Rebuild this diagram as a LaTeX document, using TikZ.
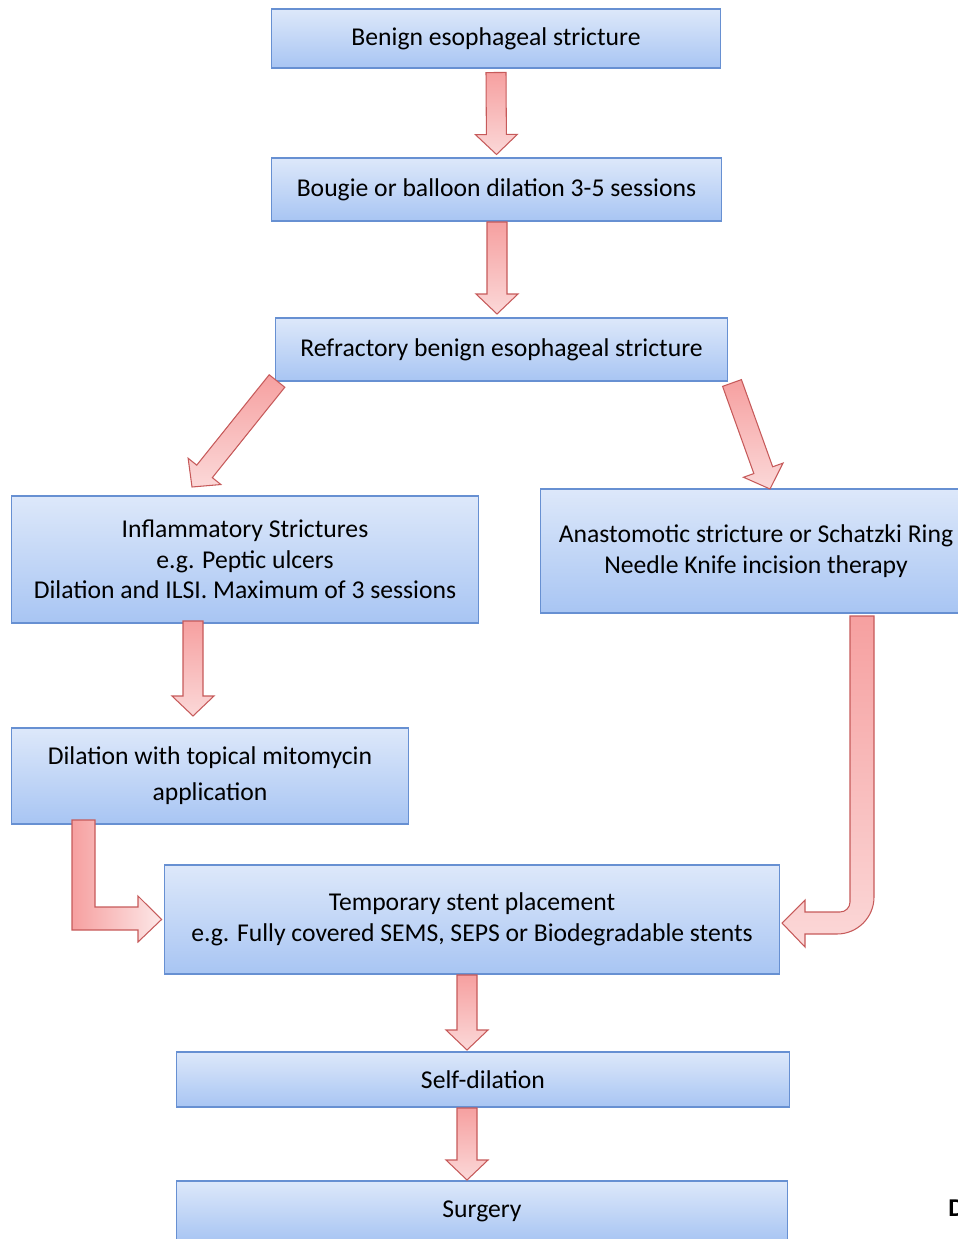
\documentclass[tikz,border=0pt]{standalone}
\usepackage{fontspec}
\setmainfont{Carlito}
\usetikzlibrary{calc}
\definecolor{boxtop}{HTML}{DDE8FA}
\definecolor{boxbot}{HTML}{A8C5F3}
\definecolor{boxline}{HTML}{6790D2}
\definecolor{arrtop}{HTML}{F6A0A0}
\definecolor{arrbot}{HTML}{FBD8D8}
\definecolor{arrline}{HTML}{C65A5A}
\tikzstyle{stage} = [draw=boxline, line width=0.6pt, top color=boxtop, bottom color=boxbot, align=center, inner sep=0pt, font=\fontsize{14.6}{17.4}\selectfont]
\tikzstyle{blockarr} = [draw=arrline, line width=0.6pt, top color=arrtop, bottom color=arrbot]
% straight block arrow from #1 to tip #2
\newcommand{\blockarrow}[2]{%
  \coordinate (hb) at ($(#2)!0.4cm!(#1)$);
  \path[blockarr] ($(#1)!0.2cm!90:(#2)$) -- ($(hb)!0.2cm!90:(#2)$) -- ($(hb)!0.42cm!90:(#2)$) -- (#2)
    -- ($(hb)!0.42cm!-90:(#2)$) -- ($(hb)!0.2cm!-90:(#2)$) -- ($(#1)!0.2cm!-90:(#2)$) -- cycle;
}

\begin{document}
\begin{tikzpicture}[x=0.02cm, y=-0.02cm]
\useasboundingbox (0,0) rectangle (957,1239);

% stages
\node[stage, minimum width=9cm, minimum height=1.18cm] (benign) at (496,38.5) {Benign esophageal stricture};
\node[stage, minimum width=9.02cm, minimum height=1.26cm] (bougie) at (496.5,189.5) {Bougie or balloon dilation 3-5 sessions};
\node[stage, minimum width=9.06cm, minimum height=1.26cm] (refract) at (501.5,349.5) {Refractory benign esophageal stricture};
\node[stage, minimum width=9.36cm, minimum height=2.54cm] (inflam) at (245,559.5)
    {Inflammatory Strictures\\e.g. Peptic ulcers\\Dilation and ILSI. Maximum of 3 sessions};
\node[stage, minimum width=8.64cm, minimum height=2.48cm] (anast) at (756,551)
    {Anastomotic stricture or Schatzki Ring\\Needle Knife incision therapy};
\node[stage, minimum width=7.96cm, minimum height=1.92cm] (mito) at (210,776)
    {Dilation with topical mitomycin\\[3pt]application};
\node[stage, minimum width=12.32cm, minimum height=2.18cm] (stent) at (472,919.5)
    {Temporary stent placement\\e.g. Fully covered SEMS, SEPS or Biodegradable stents};
\node[stage, minimum width=12.28cm, minimum height=1.1cm] (selfdil) at (483,1079.5) {Self-dilation};
\node[stage, minimum width=12.24cm, minimum height=1.2cm] (surgery) at (482,1211) {Surgery};
\node[anchor=west, inner sep=0pt, font=\bfseries\fontsize{14.6}{17}\selectfont] (cut) at (948,1208) {D};

% arrow ends
\coordinate (a1s) at ([yshift=-0.08cm]benign.south);
\coordinate (a1e) at ([yshift=0.06cm]bougie.north);
\coordinate (a2s) at (497,222);
\coordinate (a2e) at (497,314);
\coordinate (a3s) at (277,381);
\coordinate (a3e) at (192,487);
\coordinate (a4s) at (732,383);
\coordinate (a4e) at (770,489);
\coordinate (a5s) at (193,621);
\coordinate (a5e) at (193,716);
\coordinate (a6s) at (83.5,820);
\coordinate (a6e) at ([xshift=-0.04cm]stent.west);
\coordinate (a7s) at (862,616);
\coordinate (a7e) at (782,923);
\coordinate (a8s) at (467,975);
\coordinate (a8e) at (467,1050);
\coordinate (a9s) at (467,1108);
\coordinate (a9e) at (467,1180);

\blockarrow{a1s}{a1e}
\blockarrow{a2s}{a2e}
\blockarrow{a3s}{a3e}
\blockarrow{a4s}{a4e}
\blockarrow{a5s}{a5e}
\blockarrow{a8s}{a8e}
\blockarrow{a9s}{a9e}

% bent arrows
\path[blockarr, left color=arrtop, right color=arrbot!60!white] (72,820) -- (95,820) -- (95,907) -- (138,907) -- (138,896)
    -- (a6e) -- (138,942) -- (138,930) -- (72,930) -- cycle;
\path[blockarr] (850,616) -- (874,616) -- (874,897) .. controls (874,917.4) and (857.4,934) .. (837,934)
    -- (805,934) -- (805,947) -- (a7e) -- (805,900) -- (805,912) -- (840,912)
    .. controls (845.5,912) and (850,907.5) .. (850,902) -- cycle;
\end{tikzpicture}
\end{document}
